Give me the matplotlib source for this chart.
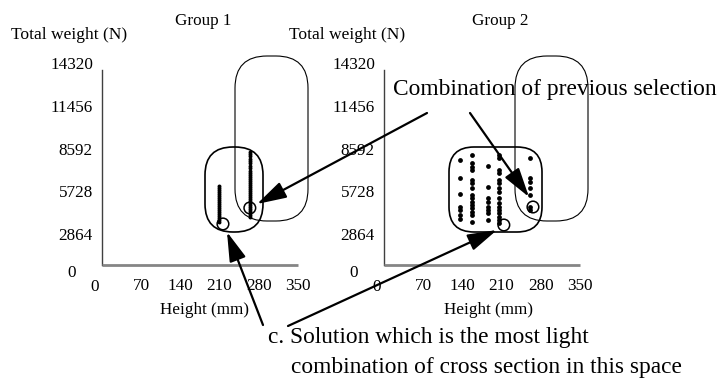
import numpy as np
import matplotlib
matplotlib.use("Agg")
import matplotlib.pyplot as plt
from matplotlib.patches import FancyBboxPatch

plt.rcParams['font.family'] = ['Liberation Serif', 'DejaVu Serif']
plt.rcParams['font.size'] = 12

# Tick values for both panels
x_ticks = [70, 140, 210, 280, 350]
y_ticks = [2864, 5728, 8592, 11456, 14320]
y_max = 14320
x_max = 350
axis_floor = 803        # where the drawn height axis sits
axis_top = 13852

# Group 1: two columns of candidate solutions (height mm, total weight N)
g1_h_a = 209
g1_w_a = [3680, 3810, 3950, 4080, 4220, 4350, 4480, 4620, 4750, 4880,
          5020, 5150, 5290, 5420, 5550, 5690, 5820, 5960, 6090]
g1_h_b = 264
g1_w_b = [8360, 8230, 8100, 7900, 7760, 7630, 7430, 7290, 7090, 6960,
          6830, 6690, 6560, 6420, 6290, 6160, 6020, 5890, 5760, 5620,
          5490, 5350, 5220, 5090, 4950, 4820, 4680, 4550, 4420, 4280,
          4150, 4020]
g1_best = (216, 3550)
g1_prev = (264, 4620)

# Group 2: scattered candidates in five height columns
g2_h_a = 136
g2_w_a = [7830, 6625, 5554, 4684, 4484, 4149, 3881]
g2_h_b = 157
g2_w_b = [8164, 7629, 7361, 7160, 6491, 6290, 5956, 5487, 5287, 5019,
          4818, 4617, 4350, 4149, 3681]
g2_h_c = 186
g2_w_c = [7428, 6023, 5287, 5019, 4684, 4484, 4283, 3814]
g2_h_d = 205
g2_w_d = [8164, 7963, 7160, 6960, 6491, 6290, 5956, 5688, 5287, 4952,
          4684, 4484, 4283, 4015, 3814, 3614]
g2_h_e = 261
g2_w_e = [7963, 6625, 6357, 5956, 5487, 4684, 4484]
g2_best = (214, 3480)
g2_prev = (266, 4684)

W, H = 719, 381
fig = plt.figure(figsize=(W / 100, H / 100), dpi=100)


def make_panel(left_px, columns, best, prev):
    ax = fig.add_axes([left_px / W, (H - 277) / H, 196 / W, 214 / H])
    ax.set_xlim(0, x_max)
    ax.set_ylim(0, y_max)
    ax.patch.set_alpha(0)
    for s in ax.spines.values():
        s.set_visible(False)
    ax.set_xticks(x_ticks)
    ax.set_yticks(y_ticks)
    ax.tick_params(axis='x', length=0, pad=0.5, labelsize=12.3)
    ax.tick_params(axis='y', length=0, pad=6.5, labelsize=12.3)
    # axis lines
    ax.plot([0, 0], [axis_floor, axis_top], color='#404040', lw=1.0,
            clip_on=False)
    ax.plot([0, x_max], [axis_floor, axis_floor], color='#858585', lw=2.0,
            clip_on=False, solid_capstyle='butt')
    ax.annotate('0', xy=(0, 0), xytext=(-21.6, 2.9), textcoords='offset points',
                ha='center', va='center', fontsize=12.3)
    ax.annotate('0', xy=(0, 0), xytext=(-5.0, -7.2), textcoords='offset points',
                ha='center', va='center', fontsize=12.3)
    for h, ws, s in columns:
        ax.scatter([h] * len(ws), ws, s=s, color='black', linewidths=0,
                   zorder=3)
    ax.scatter([best[0], prev[0]], [best[1], prev[1]], s=70,
               facecolors='none', edgecolors='black', linewidths=1.1,
               zorder=4)
    return ax


make_panel(102, [(g1_h_a, g1_w_a, 8), (g1_h_b, g1_w_b, 8)], g1_best, g1_prev)
make_panel(384, [(g2_h_a, g2_w_a, 12), (g2_h_b, g2_w_b, 12),
                 (g2_h_c, g2_w_c, 12), (g2_h_d, g2_w_d, 12),
                 (g2_h_e, g2_w_e, 12)], g2_best, g2_prev)

# overlay in pixel units for the outlines, labels and callouts
ov = fig.add_axes([0, 0, 1, 1], zorder=10)
ov.set_xlim(0, W)
ov.set_ylim(H, 0)
ov.axis('off')
ov.patch.set_alpha(0)


def rbox(x0, y0, x1, y1, r, lw):
    ov.add_patch(FancyBboxPatch((x0, y0), x1 - x0, y1 - y0,
                                boxstyle=f"round,pad=0,rounding_size={r}",
                                fill=False, ec='black', lw=lw))


rbox(235, 56, 308, 221, 32, 0.8)
rbox(205, 147, 263, 232, 28, 1.2)
rbox(515, 56, 588, 221, 32, 0.8)
rbox(449, 147, 542, 232, 25, 1.2)

ov.text(203, 21, 'Group 1', ha='center', va='center', fontsize=12.3)
ov.text(500, 21, 'Group 2', ha='center', va='center', fontsize=12.3)
ov.text(69, 35, 'Total weight (N)', ha='center', va='center', fontsize=12.6)
ov.text(347, 35, 'Total weight (N)', ha='center', va='center', fontsize=12.6)
ov.text(205, 310, 'Height (mm)', ha='center', va='center', fontsize=12.3)
ov.text(489, 310, 'Height (mm)', ha='center', va='center', fontsize=12.3)

ov.text(393, 89, 'Combination of previous selection', ha='left',
        va='center', fontsize=16.8)
ov.text(268, 338, 'c. Solution which is the most light', ha='left',
        va='center', fontsize=16.8)
ov.text(291, 368, 'combination of cross section in this space', ha='left',
        va='center', fontsize=16.8)

arrow = dict(arrowstyle='-|>,head_length=0.9,head_width=0.26',
             mutation_scale=20, lw=1.6, color='black',
             shrinkA=0, shrinkB=0)
for tip, start in [((257, 204), (427, 113)),
                   ((529, 197), (470, 113)),
                   ((227, 232), (263, 325)),
                   ((497, 230), (288, 326))]:
    ov.annotate('', xy=tip, xytext=start, arrowprops=arrow)

fig.savefig('out.png', dpi=100)
